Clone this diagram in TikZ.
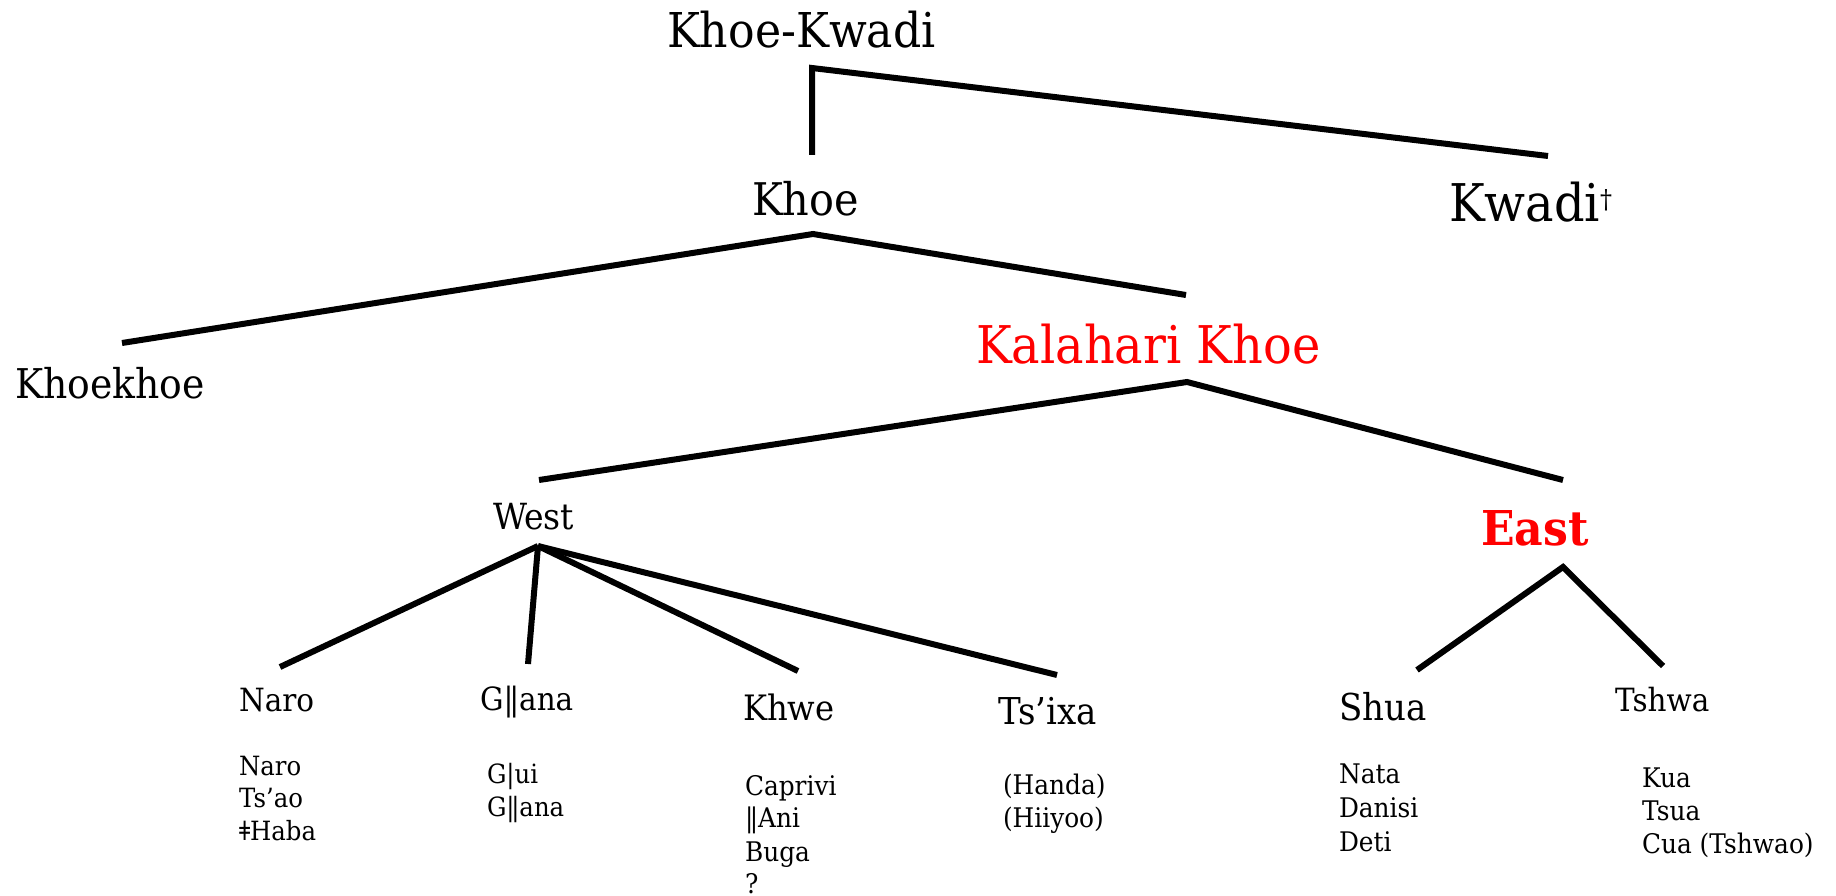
\documentclass[tikz,border=0pt]{standalone}
\usepackage{fontspec}
\setmainfont{DejaVu Serif}[FakeStretch=0.92]
\definecolor{kred}{RGB}{255,0,0}
\newcommand{\dbar}{|\kern-0.13em|}
\tikzset{
  lbl/.style={inner sep=0pt, outer sep=0pt, anchor=base west},
  sz/.style={font=\fontsize{#1}{#1}\selectfont},
  br/.style={line width=6pt, line cap=butt, line join=miter, draw=black}
}
\begin{document}
\begin{tikzpicture}[x=1pt,y=-1pt]
\useasboundingbox (0,0) rectangle (1836,896);
% main labels
\node[lbl,sz=48] (kk) at (667,48) {Khoe-Kwadi};
\node[lbl,sz=45] (khoe) at (752,215) {Khoe};
\node[lbl,sz=52] (kwadi) at (1449,222) {Kwadi\raisebox{13pt}{\fontsize{26}{26}\selectfont †}};
\node[lbl,sz=41] (khoekhoe) at (15,398) {Khoekhoe};
\node[lbl,sz=52,text=kred] (kal) at (976,363) {Kalahari Khoe};
\node[lbl,sz=36] (west) at (493,529) {West};
\node[lbl,text=kred,font=\fontsize{48}{48}\selectfont\bfseries] (east) at (1481,545) {East};
\node[lbl,sz=32] (naro) at (239,711) {Naro};
\node[lbl,sz=32] (gana) at (480,710) {G\dbar ana};
\node[lbl,sz=35] (khwe) at (743,720) {Khwe};
\node[lbl,sz=37] (tsixa) at (998,724) {Ts’ixa};
\node[lbl,sz=37] (shua) at (1339,720) {Shua};
\node[lbl,sz=32] (tshwa) at (1615,711) {Tshwa};
% dialect lists
\node[lbl,sz=26.5] (naro1) at (239,775) {Naro};
\node[lbl,sz=26.5] (naro2) at (239,807) {Ts’ao};
\node[lbl,sz=26.5] (naro3) at (239,840) {ǂHaba};
\node[lbl,sz=26.5] (gana1) at (487,783) {G|ui};
\node[lbl,sz=26.5] (gana2) at (487,816) {G\dbar ana};
\node[lbl,sz=27] (khwe1) at (745,795) {Caprivi};
\node[lbl,sz=27] (khwe2) at (745,827) {\dbar Ani};
\node[lbl,sz=27] (khwe3) at (745,861) {Buga};
\node[lbl,sz=27] (khwe4) at (745,893) {?};
\node[lbl,sz=27] (tsixa1) at (1003,794) {(Handa)};
\node[lbl,sz=27] (tsixa2) at (1003,827) {(Hiiyoo)};
\node[lbl,sz=27] (shua1) at (1339,783) {Nata};
\node[lbl,sz=27] (shua2) at (1339,817) {Danisi};
\node[lbl,sz=27] (shua3) at (1339,851) {Deti};
\node[lbl,sz=27] (tshwa1) at (1642,787) {Kua};
\node[lbl,sz=27] (tshwa2) at (1642,820) {Tsua};
\node[lbl,sz=27] (tshwa3) at (1642,853) {Cua (Tshwao)};
% joints
\coordinate (kkv) at (812,68);
\coordinate (khoeup) at (812,155);
\coordinate (kwadiup) at (1548,156);
\coordinate (khoev) at (813,234);
\coordinate (khoekhoeup) at (122,343);
\coordinate (kalup) at (1186,295);
\coordinate (kalv) at (1187,382);
\coordinate (westup) at (539,480);
\coordinate (eastup) at (1563,480);
\coordinate (westv) at (538,546);
\coordinate (naroup) at (280,667);
\coordinate (ganaup) at (528,664);
\coordinate (khweup) at (798,671);
\coordinate (tsixaup) at (1057,675);
\coordinate (eastv) at (1563,567);
\coordinate (shuaup) at (1417,670);
\coordinate (tshwaup) at (1663,666);
% branches
\draw[br] (khoeup) -- (kkv) -- (kwadiup);
\draw[br] (khoekhoeup) -- (khoev) -- (kalup);
\draw[br] (westup) -- (kalv) -- (eastup);
\draw[br] (westv) -- (naroup);
\draw[br] (westv) -- (ganaup);
\draw[br] (westv) -- (khweup);
\draw[br] (westv) -- (tsixaup);
\draw[br] (shuaup) -- (eastv) -- (tshwaup);
\end{tikzpicture}
\end{document}
